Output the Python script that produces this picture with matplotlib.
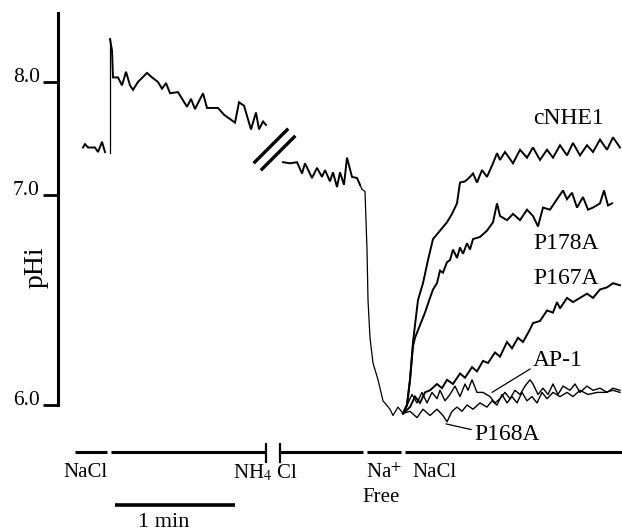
import matplotlib.pyplot as plt
import numpy as np
from matplotlib.path import Path

plt.rcParams['font.family'] = ['Liberation Serif', 'DejaVu Serif']
plt.rcParams['mathtext.fontset'] = 'stix'

# time in seconds (from the y axis), pHi values
nacl_t = [12.5, 13.5, 15, 17, 18.5, 20, 22, 23.5]
nacl_ph = [7.42, 7.45, 7.42, 7.42, 7.42, 7.38, 7.47, 7.38]

spike_t = [26, 26]
spike_ph = [7.37, 8.38]

nh4_t = [26, 27, 27.5, 30, 32, 34, 36, 37.5, 40, 44.5, 47, 50, 52, 54, 56, 60,
         64.5, 66.5, 68.5, 72.5, 74.5, 80, 83, 88.5, 90.5, 93, 96.5, 99, 100.5,
         102.5, 104]
nh4_ph = [8.38, 8.28, 8.04, 8.04, 7.97, 8.09, 7.97, 7.93, 8.00, 8.08, 8.04, 8.00,
          7.94, 7.99, 7.90, 7.91, 7.78, 7.85, 7.76, 7.90, 7.77, 7.77, 7.71, 7.64,
          7.82, 7.79, 7.58, 7.73, 7.58, 7.65, 7.62]

late_t = [112.5, 116, 119.5, 122, 123.5, 127, 129.5, 132, 133.5, 136, 137.5,
          139.5, 141, 143, 144.5, 147, 149.5, 151]
late_ph = [7.29, 7.28, 7.29, 7.19, 7.28, 7.15, 7.24, 7.16, 7.22, 7.12, 7.20,
           7.07, 7.20, 7.09, 7.33, 7.16, 7.15, 7.09]

drop_t = [151, 152, 153.5, 154.5, 155, 156, 157.5, 160, 162.5, 166, 167.5, 170, 172.5]
drop_ph = [7.09, 7.05, 7.03, 6.74, 6.50, 6.32, 6.20, 6.12, 6.02, 5.98, 5.95, 5.99, 5.96]

cnhe1_t = [172.5, 174.5, 176, 177.5, 180, 182.5, 185, 187.5, 191, 194.5,
           197, 199.5, 201, 203.5, 206, 207.5, 209.5, 212, 214.5, 217.5,
           219.5, 221, 223.5, 227.5, 231, 234.5, 237.5, 241, 244.5, 247.5,
           251, 254.5, 257.5, 261, 264.5, 267.5, 271, 274.5, 277.5, 281]
cnhe1_ph = [5.96, 6.00, 6.12, 6.30, 6.50, 6.58, 6.69, 6.79, 6.83, 6.87,
            6.91, 6.96, 7.11, 7.12, 7.16, 7.19, 7.11, 7.22, 7.16, 7.28,
            7.37, 7.31, 7.38, 7.28, 7.40, 7.33, 7.42, 7.31, 7.40, 7.33,
            7.44, 7.35, 7.46, 7.35, 7.44, 7.38, 7.49, 7.40, 7.51, 7.42]

p178a_t = [172.5, 174.5, 176, 177.5, 178.5, 181, 183.5, 186, 187.5, 189.5,
           191, 192.5, 194.5, 196, 197.5, 199.5, 201, 202.5, 204.5, 206,
           207.5, 211, 214.5, 217.5, 219.5, 221, 224.5, 227.5, 231, 234.5,
           237.5, 240, 242.5, 246, 249.5, 252.5, 254.5, 257, 259.5, 262.5,
           265, 267.5, 271, 273, 275, 277]
p178a_ph = [5.96, 6.00, 6.12, 6.28, 6.32, 6.38, 6.44, 6.51, 6.55, 6.58,
            6.64, 6.63, 6.68, 6.69, 6.74, 6.70, 6.75, 6.72, 6.77, 6.74,
            6.79, 6.80, 6.83, 6.87, 6.96, 6.90, 6.88, 6.91, 6.88, 6.93,
            6.90, 6.85, 6.94, 6.93, 6.98, 7.04, 6.98, 7.02, 6.94, 6.99,
            6.93, 6.94, 6.96, 7.04, 6.95, 6.96]

p167a_t = [172.5, 176, 178.5, 181, 183.5, 186, 189.5, 192, 194.5, 197.5,
           201, 203.5, 207, 209.5, 212.5, 215, 218.5, 221, 224.5, 227,
           230, 232.5, 236, 237.5, 241, 244.5, 247.5, 249.5, 251, 254.5,
           257.5, 261, 264.5, 267.5, 271, 274.5, 277.5, 281]
p167a_ph = [5.96, 5.99, 6.04, 6.01, 6.06, 6.07, 6.10, 6.08, 6.12, 6.10,
            6.15, 6.13, 6.18, 6.16, 6.21, 6.20, 6.25, 6.23, 6.30, 6.27,
            6.32, 6.30, 6.36, 6.39, 6.40, 6.45, 6.44, 6.49, 6.46, 6.51,
            6.49, 6.51, 6.53, 6.51, 6.55, 6.56, 6.58, 6.57]

ap1_t = [172.5, 174.5, 177, 179.5, 182, 184.5, 187, 189.5, 191, 193.5,
         196, 198.5, 201, 203.5, 205, 207, 209.5, 212.5, 216, 218.5,
         221, 223.5, 226, 228.5, 231, 233.5, 236, 237.5, 240, 242.5,
         245, 247.5, 250, 252.5, 256, 258.5, 261, 264.5, 267.5, 271,
         274.5, 277.5, 281]
ap1_ph = [5.96, 6.00, 6.05, 6.01, 6.06, 6.01, 6.06, 6.03, 6.07, 6.02,
          6.05, 6.09, 6.04, 6.10, 6.07, 6.12, 6.06, 6.06, 6.04, 6.01,
          6.03, 6.06, 6.03, 6.07, 6.05, 6.09, 6.12, 6.10, 6.05, 6.08,
          6.05, 6.10, 6.05, 6.09, 6.07, 6.10, 6.06, 6.09, 6.07, 6.08,
          6.06, 6.08, 6.07]

p168a_t = [172.5, 176, 179.5, 182.5, 186, 189.5, 192.5, 194.5, 197, 199.5,
           202, 204.5, 207.5, 211, 214.5, 217, 219.5, 222, 224.5, 227,
           229.5, 232, 234.5, 237, 239.5, 242, 244.5, 247.5, 251, 254.5,
           257.5, 261, 265, 269.5, 273.5, 277.5, 281]
p168a_ph = [5.96, 5.97, 5.94, 5.98, 5.95, 5.98, 5.95, 5.92, 5.97, 5.99,
            5.97, 6.00, 5.98, 6.01, 5.99, 6.02, 6.00, 6.05, 6.01, 6.04,
            6.01, 6.06, 6.02, 6.04, 6.01, 6.06, 6.03, 6.06, 6.04, 6.06,
            6.04, 6.07, 6.05, 6.06, 6.06, 6.07, 6.06]

# solution periods (s)
bar_start = [8.5, 26.5, 111, 154.5, 173.5]
bar_end = [24.5, 104, 152.5, 171.5, 282]
sol_labels = ['NaCl', 'NH$_4$ Cl', 'Na$^{+}$', 'NaCl']
sol_label_t = [13.5, 104, 163, 188]
break_t, break_ph = 107.9, 7.41


def fwd(p):
    p = np.asarray(p, dtype=float)
    return np.where(p >= 7, (p - 7) * 113, (p - 7) * 210)


def inv(v):
    v = np.asarray(v, dtype=float)
    return np.where(v >= 0, 7 + v / 113, 7 + v / 210)


fig = plt.figure(figsize=(6.22, 5.31), dpi=100)
ax = fig.add_axes([58 / 622, 1 - 405 / 531, 564 / 622, 392 / 531])
ax.set_yscale('function', functions=(fwd, inv))
ax.set_xlim(0, 282)
ax.set_ylim(6.0, 8.61)

k = dict(color='black', lw=1.4, clip_on=False, solid_joinstyle='miter')
ax.plot(nacl_t, nacl_ph, **k)
ax.plot(spike_t, spike_ph, color='black', lw=0.9)
ax.plot(nh4_t, nh4_ph, **k)
ax.plot(late_t, late_ph, **k)
ax.plot(drop_t, drop_ph, color='black', lw=0.9, clip_on=False)
for tt, pp in [(cnhe1_t, cnhe1_ph), (p178a_t, p178a_ph), (p167a_t, p167a_ph)]:
    ax.plot(tt, pp, **k)
ax.plot(ap1_t, ap1_ph, color='black', lw=1.0, clip_on=False)
ax.plot(p168a_t, p168a_ph, color='black', lw=1.0, clip_on=False)

# break marks  //
slash = Path([(-20.5, -13.5), (13.5, 20.5), (-13.5, -20.5), (20.5, 13.5)],
             [Path.MOVETO, Path.LINETO, Path.MOVETO, Path.LINETO])
ax.plot([break_t], [break_ph], marker=slash, ms=30, mew=2.4, mec='black',
        ls='none')

# trace labels
lab = dict(fontsize=17, va='center', ha='left')
ax.text(237.5, 7.68, 'cNHE1', **lab)
ax.text(237.5, 6.77, 'P178A', **lab)
ax.text(237.5, 6.60, 'P167A', **lab)
ax.annotate('AP-1', xy=(217, 6.06), xytext=(237.5, 6.21), fontsize=17,
            va='center', ha='left',
            arrowprops=dict(arrowstyle='-', lw=0.9, shrinkA=0, shrinkB=0,
                            relpos=(0, 0.2)))
ax.annotate('P168A', xy=(194, 5.91), xytext=(208, 5.86), fontsize=17,
            va='center', ha='left', annotation_clip=False,
            arrowprops=dict(arrowstyle='-', lw=0.9, shrinkA=0, shrinkB=0,
                            relpos=(0, 0.7)))

# axes styling
for s in ['top', 'right', 'bottom']:
    ax.spines[s].set_visible(False)
ax.spines['left'].set_linewidth(2.2)
ax.set_xticks([])
ax.set_yticks([6.0, 7.0, 8.0])
ax.set_yticklabels(['6.0', '7.0', '8.0'])
ax.yaxis.set_minor_locator(plt.NullLocator())
ax.tick_params(axis='y', direction='out', length=11, width=2, pad=2,
               labelsize=15.5)
for t in ax.get_yticklabels():
    t.set_verticalalignment('baseline')
ax.text(-0.039, 0.352, 'pHi', transform=ax.transAxes, rotation=90,
        fontsize=20, ha='center', va='center')

# solution bars below the traces
tr = ax.get_xaxis_transform()
for a, b in zip(bar_start, bar_end):
    ax.plot([a, b], [-0.12, -0.12], transform=tr, color='black', lw=2.2,
            clip_on=False, solid_capstyle='butt')
for x in [bar_end[1], bar_start[2]]:
    ax.plot([x, x], [-0.10, -0.145], transform=tr, color='black', lw=1.6,
            clip_on=False)
for x, s in zip(sol_label_t, sol_labels):
    ax.text(x, -0.173, s, transform=tr, fontsize=15, ha='center', va='center')
ax.text(161.5, -0.235, 'Free', transform=tr, fontsize=15, ha='center',
        va='center')

# 1 min scale bar
ax.plot([28.5, 88.5], [-0.255, -0.255], transform=tr, color='black', lw=2.6,
        clip_on=False, solid_capstyle='butt')
ax.text(53, -0.3235, '1 min', transform=tr, fontsize=16, ha='center',
        va='bottom')

fig.savefig('out.png', dpi=100, facecolor='white')
